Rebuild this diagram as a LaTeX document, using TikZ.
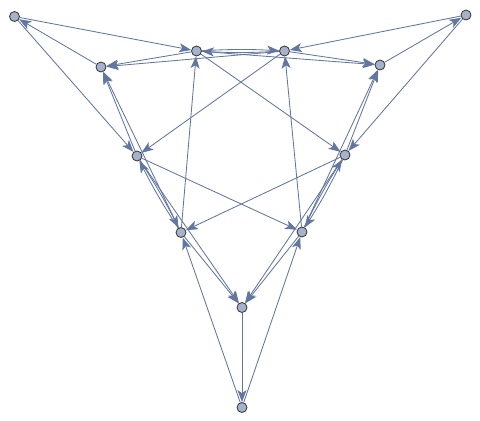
\documentclass[tikz,border=0pt]{standalone}
\usetikzlibrary{arrows.meta}
\definecolor{edgecol}{RGB}{98,118,160}
\definecolor{vfill}{RGB}{166,178,200}
\definecolor{vdraw}{RGB}{50,50,55}
\pgfdeclarelayer{bg}
\pgfsetlayers{bg,main}
\tikzset{
  vtx/.style={circle,inner sep=0pt,minimum size=10pt,fill=vfill,draw=vdraw,line width=0.8pt},
  edge/.style={draw=edgecol,line width=0.85pt,-{Stealth[length=12pt,width=9pt,inset=3pt]}},
}
\begin{document}
\begin{tikzpicture}[x=1pt,y=-1pt]
\useasboundingbox (0,0) rectangle (480,421);
\node[vtx] (A) at (14.5,16.5) {};
\node[vtx] (B) at (466,15) {};
\node[vtx] (C) at (242,407.5) {};
\node[vtx] (P1) at (101,67) {};
\node[vtx] (P2) at (196.5,51) {};
\node[vtx] (P3) at (284.5,51) {};
\node[vtx] (P4) at (380,65) {};
\node[vtx] (P5) at (137,156) {};
\node[vtx] (P6) at (345,155) {};
\node[vtx] (P7) at (181,232.5) {};
\node[vtx] (P8) at (302,232) {};
\node[vtx] (P9) at (242,307.5) {};
\begin{pgfonlayer}{bg}
% outer to inner
\draw[edge] (A) -- (P2);
\draw[edge] (A) -- (P5);
\draw[edge] (C) -- (P7);
\draw[edge] (C) -- (P8);
\draw[edge] (B) -- (P6);
\draw[edge] (B) -- (P3);
% middle to outer
\draw[edge] (P1) -- (A);
\draw[edge] (P9) -- (C);
\draw[edge] (P4) -- (B);
% inner cycles
\draw[edge] (P7) -- (P2);
\draw[edge] (P6) -- (P7);
\draw[edge] (P2) -- (P6);
\draw[edge] (P3) -- (P5);
\draw[edge] (P5) -- (P8);
\draw[edge] (P8) -- (P3);
% bidirectional pairs
\draw[edge] (P2) to[bend left=3] (P3);
\draw[edge] (P3) to[bend left=3] (P2);
\draw[edge] (P5) to[bend left=3] (P7);
\draw[edge] (P7) to[bend left=3] (P5);
\draw[edge] (P8) to[bend left=3] (P6);
\draw[edge] (P6) to[bend left=3] (P8);
% inner to middle
\draw[edge] (P2) -- (P1);
\draw[edge] (P3) -- (P1);
\draw[edge] (P5) -- (P1);
\draw[edge] (P7) -- (P1);
\draw[edge] (P7) -- (P9);
\draw[edge] (P5) -- (P9);
\draw[edge] (P8) -- (P9);
\draw[edge] (P6) -- (P9);
\draw[edge] (P6) -- (P4);
\draw[edge] (P8) -- (P4);
\draw[edge] (P3) -- (P4);
\draw[edge] (P2) -- (P4);
\end{pgfonlayer}
\end{tikzpicture}
\end{document}
